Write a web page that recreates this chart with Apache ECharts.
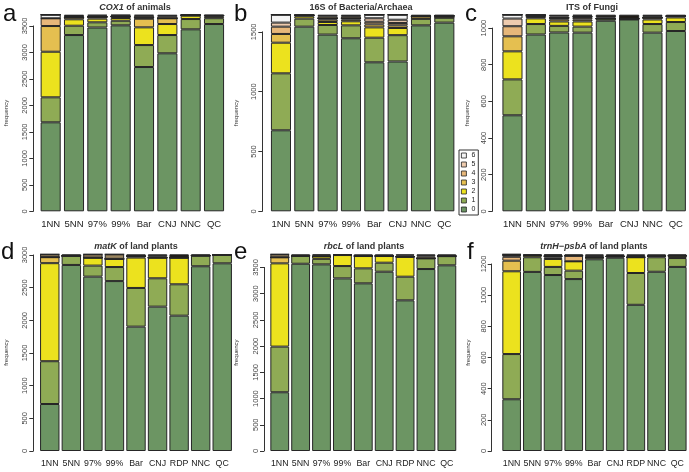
<!DOCTYPE html>
<html><head><meta charset="utf-8">
<script src="https://cdn.jsdelivr.net/npm/echarts@6/dist/echarts.min.js"></script>
<style>html,body{margin:0;padding:0;background:#fff}#c{width:689px;height:472px}</style>
</head><body><div id="c"></div>
<script>
// ---- data ----
const classes = ['0','1','2','3','4','5','6','7','8'];
const legendClasses = ['6','5','4','3','2','1','0'];
const methods8 = ['1NN','5NN','97%','99%','Bar','CNJ','NNC','QC'];
const methods9 = ['1NN','5NN','97%','99%','Bar','CNJ','RDP','NNC','QC'];

// each row = one method, columns = counts of classes 0..8
const cox1Animals = [
  [1680,472,861,485,146,0,68,0,0],
  [3328,176,121,37,0,0,0,25,25],
  [3470,98,70,35,0,0,0,20,19],
  [3511,87,51,30,0,0,0,18,15],
  [2724,415,334,163,20,0,0,35,21],
  [2983,345,208,108,0,0,0,40,28],
  [3436,194,63,10,0,0,0,0,9],
  [3536,110,30,20,0,0,0,0,16]
];
const s16Bacteria = [
  [677,476,256,73,61,34,66,0,0],
  [1543,67,20,8,0,0,0,0,5],
  [1477,80,25,20,10,0,0,18,13],
  [1446,108,34,15,10,0,0,18,12],
  [1245,206,86,25,22,29,30,0,0],
  [1252,220,60,22,20,27,42,0,0],
  [1554,55,0,20,0,0,0,0,14],
  [1577,41,0,15,0,0,0,0,10]
];
const itsFungi = [
  [524,196,153,82,55,42,21,0,0],
  [965,57,31,8,6,0,0,6,0],
  [976,36,24,12,8,0,0,7,10],
  [975,33,28,10,10,6,0,5,6],
  [1040,12,0,0,0,0,0,6,15],
  [1047,4,0,0,0,0,0,0,22],
  [975,47,25,10,0,0,0,8,8],
  [984,49,25,7,0,0,0,0,8]
];
const matKPlants = [
  [719,655,1500,92,0,0,0,44,0],
  [2847,140,0,0,0,0,0,0,23],
  [2668,169,122,0,0,0,0,51,0],
  [2600,215,125,0,0,0,0,70,0],
  [1903,592,465,20,0,0,0,0,30],
  [2209,434,316,0,0,0,0,21,30],
  [2071,480,408,0,0,0,0,0,51],
  [2827,163,0,0,0,0,0,0,20],
  [2872,128,0,0,0,0,0,0,10]
];
const rbcLPlants = [
  [1120,870,1587,115,0,0,0,58,0],
  [3570,150,0,0,0,0,0,0,30],
  [3558,105,47,0,0,0,0,20,20],
  [3291,235,210,0,0,0,0,0,14],
  [3196,286,235,0,0,0,0,0,33],
  [3418,172,127,0,0,0,0,0,33],
  [2872,451,381,0,0,0,0,20,26],
  [3469,203,0,0,0,0,0,40,38],
  [3540,175,0,0,0,0,0,0,35]
];
const trnHpsbAPlants = [
  [332,290,531,68,25,10,0,6,0],
  [1149,94,12,0,0,0,0,0,7],
  [1129,52,51,10,8,0,0,6,6],
  [1103,54,60,0,36,0,0,0,9],
  [1230,12,0,0,0,0,0,8,12],
  [1240,8,0,0,0,0,0,0,14],
  [938,204,101,0,0,0,0,8,11],
  [1150,93,8,0,0,0,0,0,11],
  [1181,57,15,0,0,0,0,0,9]
];
const ticksCox1 = [0,500,1000,1500,2000,2500,3000,3500];
const ticks16S = [0,500,1000,1500];
const ticksITS = [0,200,400,600,800,1000];
const ticksMatK = [0,500,1000,1500,2000,2500,3000];
const ticksRbcL = [0,500,1000,1500,2000,2500,3000,3500];
const ticksTrnH = [0,200,400,600,800,1000,1200];

// ---- styling / layout ----
const palette = ['#6c9563','#8fab55','#ece21e','#e5bf50','#e7b77a','#eecbae','#f3f3f3','#9a855f','#1f1b16'];
const FONT = '"Liberation Sans", Arial, Helvetica, sans-serif';

const panels = [
  {counts:cox1Animals, cats:methods8, ticks:ticksCox1, title:'{i|COX1}{n| of animals}',
   grid:{left:39, top:14.7, width:186.7, height:196.6}, axisX:33.3, gap:'14%', letter:'a', lx:3, ly:2, tx:135, ty:3, fs:9.5},
  {counts:s16Bacteria, cats:methods8, ticks:ticks16S, title:'{n|16S of Bacteria/Archaea}',
   grid:{left:269.3, top:14.7, width:186.7, height:196.6}, axisX:262.3, gap:'14%', letter:'b', lx:234, ly:2, tx:361, ty:3, fs:9.5},
  {counts:itsFungi, cats:methods8, ticks:ticksITS, title:'{n|ITS of Fungi}',
   grid:{left:500.8, top:14.7, width:186.7, height:196.6}, axisX:492.3, gap:'14%', letter:'c', lx:465, ly:2, tx:592, ty:3, fs:9.5},
  {counts:matKPlants, cats:methods9, ticks:ticksMatK, title:'{i|matK}{n| of land plants}',
   grid:{left:39, top:254.3, width:194, height:196.7}, axisX:33.3, gap:'10%', letter:'d', lx:1, ly:240, tx:136, ty:242, fs:8.8},
  {counts:rbcLPlants, cats:methods9, ticks:ticksRbcL, title:'{i|rbcL}{n| of land plants}',
   grid:{left:269.3, top:254.3, width:188, height:196.7}, axisX:264, gap:'10%', letter:'e', lx:234, ly:240, tx:364, ty:242, fs:8.8},
  {counts:trnHpsbAPlants, cats:methods9, ticks:ticksTrnH, title:'{i|trnH\u2212psbA}{n| of land plants}',
   grid:{left:501.3, top:254.3, width:186.3, height:196.7}, axisX:491.7, gap:'10%', letter:'f', lx:467, ly:240, tx:594, ty:242, fs:8.8}
];

const option = {
  animation:false,
  textStyle:{fontFamily:FONT},
  grid:[], xAxis:[], yAxis:[], series:[], title:[],
  legend:{
    data:legendClasses, orient:'vertical', left:459, top:150,
    itemWidth:5, itemHeight:5, itemGap:2, icon:'rect', selectedMode:false,
    padding:[2,3,2,2], borderColor:'#333', borderWidth:1,
    itemStyle:{borderColor:'#222', borderWidth:0.8},
    textStyle:{fontSize:7, color:'#222', fontFamily:FONT}
  }
};

panels.forEach((p,i)=>{
  const total = Math.max(...p.counts.map(r=>r.reduce((a,b)=>a+b,0)));
  const tickMax = p.ticks[p.ticks.length-1];
  const step = p.ticks[1]-p.ticks[0];
  const g = p.grid;
  option.grid.push({left:g.left, top:g.top, width:g.width, height:g.height});
  const bi = option.grid.length-1;
  option.xAxis.push({type:'category', gridIndex:bi, data:p.cats,
    axisLine:{show:false}, axisTick:{show:false},
    axisLabel:{fontSize:p.fs, color:'#222', margin:8.5, interval:0, fontFamily:FONT}});
  option.yAxis.push({type:'value', gridIndex:bi, min:0, max:total,
    axisLine:{show:false}, axisTick:{show:false}, axisLabel:{show:false}, splitLine:{show:false},
    name:'frequency', nameLocation:'middle', nameRotate:90, nameGap:30,
    nameTextStyle:{fontSize:6, color:'#333', fontFamily:FONT}});
  classes.forEach((c,k)=>{
    option.series.push({type:'bar', name:c, xAxisIndex:bi, yAxisIndex:bi, stack:'s'+i,
      data:p.counts.map(r=>r[k]), barCategoryGap:p.gap,
      itemStyle:{color:palette[k], borderColor:'#262626', borderWidth:1},
      emphasis:{disabled:true}});
  });
  // R-style y axis spanning only 0..last tick
  const axH = g.height*tickMax/total;
  option.grid.push({left:p.axisX, top:g.top+g.height-axH, width:4, height:axH});
  const ai = option.grid.length-1;
  option.xAxis.push({type:'value', gridIndex:ai, show:false, min:0, max:1});
  option.yAxis.push({type:'value', gridIndex:ai, min:0, max:tickMax, interval:step,
    axisLine:{show:true, lineStyle:{color:'#333', width:1}},
    axisTick:{show:true, length:4, lineStyle:{color:'#333', width:1}},
    axisLabel:{rotate:90, fontSize:7.5, color:'#444', margin:4, fontFamily:FONT, formatter:v=>String(v)},
    splitLine:{show:false}});
  option.title.push({text:p.title, left:p.tx, top:p.ty, textAlign:'center', padding:0,
    textStyle:{rich:{
      i:{fontStyle:'italic', fontWeight:'bold', fontSize:9, color:'#333', fontFamily:FONT},
      n:{fontWeight:'bold', fontSize:9, color:'#333', fontFamily:FONT}}}});
  option.title.push({text:p.letter, left:p.lx, top:p.ly, padding:0,
    textStyle:{fontSize:24, fontWeight:'normal', color:'#111', fontFamily:FONT}});
});

const chart = echarts.init(document.getElementById('c'), null, {renderer:'canvas'});
chart.setOption(option);
</script>
</body></html>
